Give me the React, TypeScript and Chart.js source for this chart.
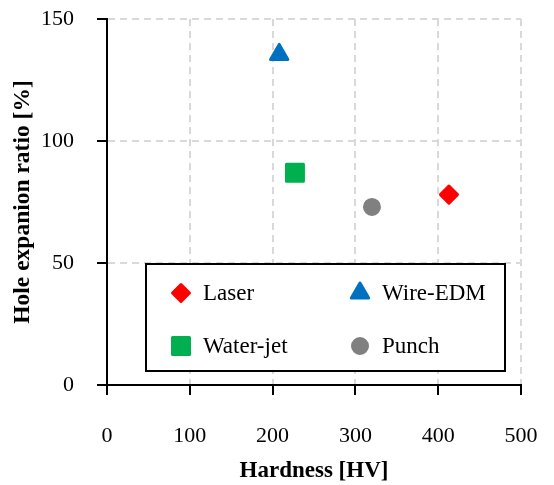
import React, { useEffect, useRef } from "react";
import { Chart, registerables } from "chart.js";
import { drawPoint } from "chart.js/helpers";

Chart.register(...registerables);

// ---- data ----
const seriesLabels = ["Laser", "Wire-EDM", "Water-jet", "Punch"];
const hardnessHV = [413, 208, 227, 320];
const holeExpansionRatio = [78, 135.5, 87, 73];
const seriesColors = ["#FF0000", "#0070C0", "#00B050", "#808080"];
const seriesMarkers = ["rectRot", "triangle", "rect", "circle"];
const xTickValues = [0, 100, 200, 300, 400, 500];
const yTickValues = [0, 50, 100, 150];
const xTitle = "Hardness [HV]";
const yTitle = "Hole expanion ratio [%]";

const FONT = "'Liberation Serif', 'Times New Roman', serif";
const markerRadius: Record<string, number> = { rectRot: 8.5, triangle: 10, rect: 12, circle: 7.5 };

const roundJoinPlugin = {
  id: "roundJoin",
  beforeDatasetsDraw(chart: any) {
    chart.ctx.save();
    chart.ctx.lineJoin = "round";
  },
  afterDatasetsDraw(chart: any) {
    chart.ctx.restore();
  },
};

const boxLegendPlugin = {
  id: "boxLegend",
  afterDraw(chart: any) {
    const ctx = chart.ctx as CanvasRenderingContext2D;
    const box = { left: 146, top: 264, right: 505, bottom: 371 };
    const cols = [181, 360];
    const rows = [293, 346];
    ctx.save();
    ctx.fillStyle = "#fff";
    ctx.fillRect(box.left, box.top, box.right - box.left, box.bottom - box.top);
    ctx.strokeStyle = "#000";
    ctx.lineWidth = 2;
    ctx.strokeRect(box.left, box.top, box.right - box.left, box.bottom - box.top);
    chart.data.datasets.forEach((ds: any, i: number) => {
      const cx = cols[i % 2];
      const cy = rows[Math.floor(i / 2)];
      ctx.fillStyle = ds.pointBackgroundColor;
      ctx.strokeStyle = ds.pointBorderColor;
      ctx.lineWidth = ds.pointBorderWidth;
      ctx.lineJoin = "round";
      drawPoint(ctx, { pointStyle: ds.pointStyle, radius: ds.pointRadius, borderWidth: ds.pointBorderWidth, rotation: 0 } as any, cx, cy);
      ctx.fillStyle = "#000";
      ctx.font = `23px ${FONT}`;
      ctx.textBaseline = "middle";
      ctx.textAlign = "left";
      ctx.fillText(ds.label, cx + 22, cy + 1);
    });
    ctx.restore();
  },
};

export default function App() {
  const canvasRef = useRef<HTMLCanvasElement | null>(null);

  useEffect(() => {
    if (!canvasRef.current) return;
    const datasets = seriesLabels.map((label, i) => ({
      label,
      data: [{ x: hardnessHV[i], y: holeExpansionRatio[i] }],
      pointStyle: seriesMarkers[i],
      pointRadius: markerRadius[seriesMarkers[i]],
      pointBackgroundColor: seriesColors[i],
      pointBorderColor: seriesColors[i],
      pointBorderWidth: 3,
      showLine: false,
    }));
    const gridColor = (c: any) => (c.tick && c.tick.value === 0 ? "rgba(0,0,0,0)" : "#d9d9d9");
    const chart = new Chart(canvasRef.current, {
      type: "scatter",
      data: { datasets },
      plugins: [roundJoinPlugin, boxLegendPlugin],
      options: {
        animation: false,
        responsive: true,
        maintainAspectRatio: false,
        events: [],
        layout: { padding: { top: 19, right: 33, left: 0, bottom: 0 } },
        plugins: { legend: { display: false }, tooltip: { enabled: false } },
        scales: {
          x: {
            type: "linear",
            min: 0,
            max: 500,
            afterBuildTicks: (s: any) => {
              s.ticks = xTickValues.map((v) => ({ value: v }));
            },
            afterFit: (s: any) => {
              s.height = 100;
              s.paddingLeft = 0;
              s.paddingRight = 0;
            },
            ticks: { font: { family: FONT, size: 22 }, color: "#000", padding: 28, maxRotation: 0 },
            grid: { color: gridColor, lineWidth: 2, tickColor: "#000", tickWidth: 2, tickLength: 10 },
            border: { display: true, color: "#000", width: 2, dash: [7, 5] },
            title: {
              display: true,
              text: xTitle,
              font: { family: FONT, size: 23, weight: "bold" },
              color: "#000",
              padding: { top: 0, bottom: 0 },
            },
          },
          y: {
            type: "linear",
            min: 0,
            max: 150,
            afterBuildTicks: (s: any) => {
              s.ticks = yTickValues.map((v) => ({ value: v }));
            },
            afterFit: (s: any) => {
              s.width = 107;
              s.paddingTop = 0;
              s.paddingBottom = 0;
            },
            ticks: { font: { family: FONT, size: 22 }, color: "#000", padding: 23 },
            grid: { color: gridColor, lineWidth: 2, tickColor: "#000", tickWidth: 2, tickLength: 10 },
            border: { display: true, color: "#000", width: 2, dash: [7, 5] },
            title: {
              display: true,
              text: yTitle,
              font: { family: FONT, size: 23.5, weight: "bold" },
              color: "#000",
              padding: { top: 9, bottom: 0 },
            },
          },
        },
      } as any,
    });
    return () => chart.destroy();
  }, []);

  return (
    <div style={{ position: "fixed", left: 0, top: 0, width: 554, height: 485 }}>
      <canvas ref={canvasRef} />
    </div>
  );
}
